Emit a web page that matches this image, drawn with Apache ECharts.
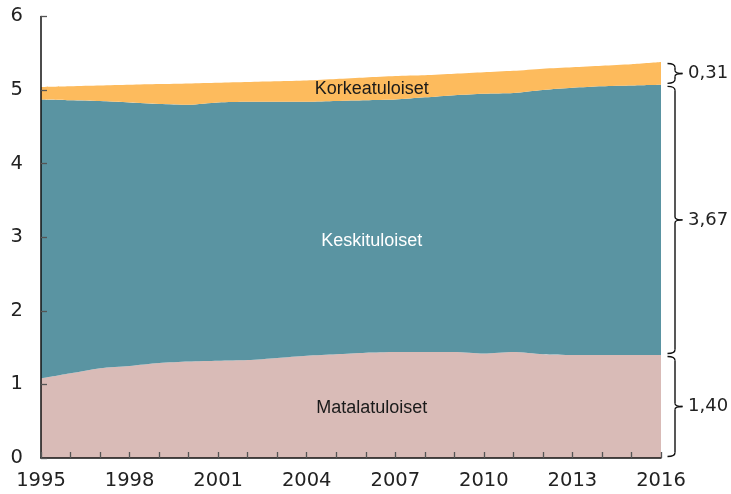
<!DOCTYPE html>
<html>
<head>
<meta charset="utf-8">
<script src="https://cdn.jsdelivr.net/npm/echarts@6/dist/echarts.min.js"></script>
<style>
html,body{margin:0;padding:0;background:#fff;}
#c{width:731px;height:494px;}
</style>
</head>
<body>
<div id="c"></div>
<script>
// ---- data ----
var years = ['1995','1996','1997','1998','1999','2000','2001','2002','2003','2004','2005','2006','2007','2008','2009','2010','2011','2012','2013','2014','2015','2016'];
var matala = [1.08,1.15,1.22,1.25,1.29,1.31,1.32,1.33,1.36,1.39,1.41,1.43,1.44,1.44,1.44,1.42,1.44,1.41,1.40,1.40,1.40,1.40];
var keski  = [3.79,3.71,3.63,3.58,3.52,3.49,3.51,3.51,3.48,3.45,3.44,3.43,3.43,3.46,3.49,3.53,3.52,3.59,3.63,3.65,3.66,3.67];
var korkea = [0.17,0.19,0.21,0.24,0.27,0.29,0.27,0.27,0.28,0.29,0.30,0.31,0.32,0.30,0.29,0.29,0.30,0.29,0.28,0.28,0.29,0.31];
var seriesNames = ['Matalatuloiset','Keskituloiset','Korkeatuloiset'];
var yTicks = [0,1,2,3,4,5,6];

var colors = ['#d9bbb7','#5a94a2','#fdbb5d'];
var chart = echarts.init(document.getElementById('c'));
var axisFont = 'DejaVu Sans';

function areaSeries(name, data, color){
  return {
    name: name, type: 'line', stack: 'total', data: data,
    symbol: 'none', smooth: 0.25,
    lineStyle: {width: 0, color: color},
    areaStyle: {color: color, opacity: 1},
    itemStyle: {color: color},
    z: 2
  };
}

chart.setOption({
  animation: false,
  grid: {left: 41, right: 70, top: 16.4, bottom: 36},
  xAxis: {
    type: 'category', data: years, boundaryGap: false, z: 10,
    axisLine: {lineStyle: {color: '#111', width: 1.5}},
    axisTick: {inside: true, length: 6, interval: 0, lineStyle: {color: '#555', width: 1.3}},
    axisLabel: {interval: 2, margin: 13, color: '#222', fontSize: 19.5, fontFamily: axisFont},
    splitLine: {show: false}
  },
  yAxis: {
    type: 'value', min: yTicks[0], max: yTicks[yTicks.length-1], interval: 1, z: 10,
    axisLine: {show: true, lineStyle: {color: '#111', width: 1.5}},
    axisTick: {show: true, inside: true, length: 6, lineStyle: {color: '#555', width: 1.3}},
    axisLabel: {margin: 18, color: '#222', fontSize: 19.5, fontFamily: axisFont},
    splitLine: {show: false}
  },
  series: [
    areaSeries(seriesNames[0], matala, colors[0]),
    areaSeries(seriesNames[1], keski, colors[1]),
    areaSeries(seriesNames[2], korkea, colors[2])
  ]
});

// ---- annotations ----
var n = years.length - 1;
var last = [matala[n], keski[n], korkea[n]];
var bounds = [0, last[0], last[0]+last[1], last[0]+last[1]+last[2]];
var lastYear = years[n];
function px(year, v){ return chart.convertToPixel({gridIndex:0}, [year, v]); }

var graphics = [];
var xl = 675, xh = 667.5, xt = 682.5;
var braceStyle = {fill: null, stroke: '#111', lineWidth: 1.4};
function bez(x1, y1, cx, cy, x2, y2){
  graphics.push({type: 'bezierCurve', shape: {x1: x1, y1: y1, cpx1: cx, cpy1: cy, x2: x2, y2: y2}, style: braceStyle, z: 20});
}
function seg(x1, y1, x2, y2){
  graphics.push({type: 'line', shape: {x1: x1, y1: y1, x2: x2, y2: y2}, style: braceStyle, z: 20});
}
for (var i = 0; i < 3; i++) {
  var yB = px(lastYear, bounds[i])[1] - 1.5;
  var yT = px(lastYear, bounds[i+1])[1] + 1.5;
  var yM = (yT + yB) / 2;
  var c = Math.min(4, (yB - yT) / 4);
  bez(xh, yT, xl, yT, xl, yT + c);
  seg(xl, yT + c, xl, yM - 3);
  bez(xl, yM - 3, xl, yM, xt, yM);
  bez(xl, yM + 3, xl, yM, xt, yM);
  seg(xl, yM + 3, xl, yB - c);
  bez(xl, yB - c, xl, yB, xh, yB);
  graphics.push({
    type: 'text', x: 688, y: yM,
    style: {text: last[i].toFixed(2).replace('.', ','), fill: '#222', font: '18px ' + axisFont, textVerticalAlign: 'middle', textAlign: 'left'},
    z: 20
  });
}

// series labels
var labelYear = '2006';
var labelVals = [0.68, 2.95, 5.01];
var labelColors = ['#1a1a1a', '#ffffff', '#1a1a1a'];
for (var j = 0; j < 3; j++) {
  var p = px(labelYear, labelVals[j]);
  graphics.push({
    type: 'text', x: p[0] + 6, y: p[1],
    style: {text: seriesNames[j], fill: labelColors[j], font: '18px "Liberation Sans"', textAlign: 'center', textVerticalAlign: 'middle'},
    z: 20
  });
}
chart.setOption({graphic: graphics});
</script>
</body>
</html>
